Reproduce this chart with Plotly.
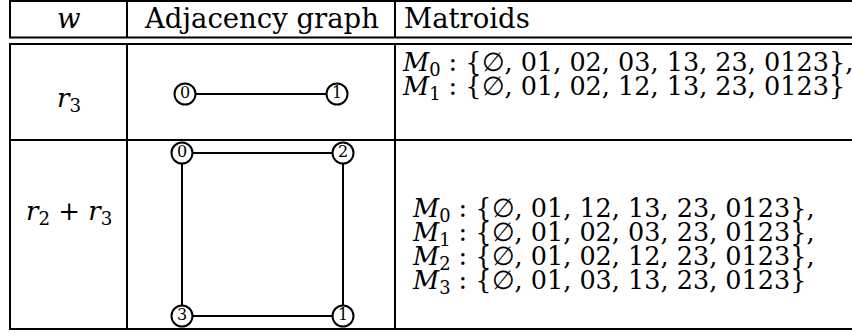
import plotly.graph_objects as go

# ---------------- data ----------------
header_labels = ["<i>w</i>", "Adjacency graph", "Matroids"]
w_labels = ["<i>r</i><sub>3</sub>", "<i>r</i><sub>2</sub> + <i>r</i><sub>3</sub>"]

graph1_nodes = ["0", "1"]
graph1_edges = [("0", "1")]
graph2_nodes = ["0", "2", "3", "1"]
graph2_edges = [("0", "2"), ("2", "1"), ("1", "3"), ("3", "0")]

matroids_row1 = [
    ("M", "0", "∅, 01, 02, 03, 13, 23, 0123", ","),
    ("M", "1", "∅, 01, 02, 12, 13, 23, 0123", ""),
]
matroids_row2 = [
    ("M", "0", "∅, 01, 12, 13, 23, 0123", ","),
    ("M", "1", "∅, 01, 02, 03, 23, 0123", ","),
    ("M", "2", "∅, 01, 02, 12, 23, 0123", ","),
    ("M", "3", "∅, 01, 03, 13, 23, 0123", ""),
]

# ---------------- layout geometry ----------------
W, H = 852, 336
FONT = "DejaVu Serif"
FS_HEAD = 27.5
FS_TXT = 25.5
col_x = [10, 127, 395]          # vertical rule positions
right_edge = W
y_top, y_head, y_head2, y_row, y_bot = 1, 37.5, 44, 140, 329

# node placement (unit layout -> cell box)
layout1 = {"0": (0, 0), "1": (1, 0)}
box1 = dict(x0=185, x1=337, y0=94, y1=94)
layout2 = {"0": (0, 0), "2": (1, 0), "3": (0, 1), "1": (1, 1)}
box2 = dict(x0=182, x1=343, y0=153, y1=316)


def place(layout, box, name):
    u, v = layout[name]
    return box["x0"] + u * (box["x1"] - box["x0"]), box["y0"] + v * (box["y1"] - box["y0"])


fig = go.Figure()

# table rules
shapes = []
def hline(y):
    shapes.append(dict(type="line", xref="x", yref="y", x0=col_x[0] - 1, x1=right_edge, y0=y, y1=y,
                       line=dict(color="black", width=2)))
def vline(x, y0, y1):
    shapes.append(dict(type="line", xref="x", yref="y", x0=x, x1=x, y0=y0, y1=y1,
                       line=dict(color="black", width=2)))

for y in (y_top, y_head, y_head2, y_row, y_bot):
    hline(y)
for x in col_x:
    vline(x, y_top, y_head)
    vline(x, y_head2, y_bot)

# graphs
for nodes, edges, lay, box in ((graph1_nodes, graph1_edges, layout1, box1),
                               (graph2_nodes, graph2_edges, layout2, box2)):
    for a, b in edges:
        xa, ya = place(lay, box, a)
        xb, yb = place(lay, box, b)
        fig.add_trace(go.Scatter(x=[xa, xb], y=[ya, yb], mode="lines",
                                 line=dict(color="black", width=2), hoverinfo="skip", showlegend=False))
    xs, ys = zip(*[place(lay, box, n) for n in nodes])
    fig.add_trace(go.Scatter(x=list(xs), y=list(ys), mode="markers+text", text=nodes,
                             textposition="middle center",
                             textfont=dict(family=FONT, size=16, color="black"),
                             marker=dict(size=21, color="white", line=dict(color="black", width=2)),
                             hoverinfo="skip", showlegend=False))

ann = []
def text(x, y, s, xanchor="center", size=FS_TXT):
    ann.append(dict(x=x, y=y, xref="x", yref="y", text=s, showarrow=False,
                    xanchor=xanchor, yanchor="middle",
                    font=dict(family=FONT, size=size, color="black")))

# header
text((col_x[0] + col_x[1]) / 2, 18, header_labels[0], size=FS_HEAD)
text((col_x[1] + col_x[2]) / 2, 18, header_labels[1], size=FS_HEAD)
text(402, 18, header_labels[2], xanchor="left", size=FS_HEAD)

# w column
text((col_x[0] + col_x[1]) / 2, 99, w_labels[0], size=26)
text((col_x[0] + col_x[1]) / 2, 212, w_labels[1], size=26)

def mline(m):
    name, idx, body, tail = m
    return f"<i>{name}</i><sub>{idx}</sub> : {{{body}}}{tail}"

for i, m in enumerate(matroids_row1):
    text(400, 63 + 24 * i, mline(m), xanchor="left")
for i, m in enumerate(matroids_row2):
    text(410, 209 + 24 * i, mline(m), xanchor="left")

fig.update_layout(
    width=W, height=H, margin=dict(l=0, r=0, t=0, b=0),
    paper_bgcolor="white", plot_bgcolor="white",
    xaxis=dict(range=[0, W], visible=False, fixedrange=True),
    yaxis=dict(range=[H, 0], visible=False, fixedrange=True),
    shapes=shapes, annotations=ann, showlegend=False,
)
fig.write_html("out.html", post_script="document.body.style.margin='0px';",
               config={"displayModeBar": False})
